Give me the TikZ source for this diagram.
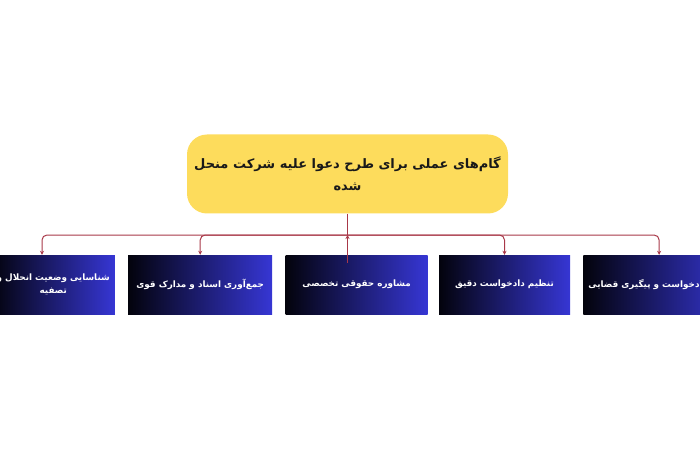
\documentclass[tikz,border=0pt]{standalone}
\usepackage{fontspec}
\usetikzlibrary{positioning, arrows.meta}
\TeXXeTstate=1
\newfontfamily\arabicfont[Script=Arabic]{DejaVu Sans}
\definecolor{titleyellow}{HTML}{FDDC5C}
\definecolor{stagedark}{HTML}{03030C}
\definecolor{stageblue}{HTML}{3636D4}
\definecolor{linkred}{HTML}{A83848}
\tikzset{
    title/.style={rounded corners=20pt, fill=titleyellow, minimum width=321pt, minimum height=79pt,
        text=black!90, align=center, font=\arabicfont\bfseries\fontsize{13}{22}\selectfont},
    stage/.style={left color=stagedark, right color=stageblue, minimum height=59pt, inner xsep=5pt,
        text=white, align=center, font=\arabicfont\bfseries\fontsize{8.8}{13}\selectfont},
    link/.style={draw=linkred, line width=1pt, rounded corners=5pt},
    tip/.style={-{Stealth[length=4pt, width=4pt]}},
    node distance=13pt
}

\begin{document}
\begin{tikzpicture}[x=1pt, y=1pt]
    \useasboundingbox (0,0) rectangle (700,450);
    \clip (0,0) rectangle (700,450);

    \node[title]  (steps)    at (347.5,276)  {\beginR گام‌های عملی برای طرح دعوا علیه شرکت منحل\endR\\\beginR شده\endR};

    \node[stage, minimum width=115pt, anchor=east] (identify) at (115,165.5) {\beginR شناسایی وضعیت انحلال و\endR\\\beginR تصفیه\endR};
    \node[stage, minimum width=144pt] (collect)  [right=of identify]      {\beginR جمع‌آوری اسناد و مدارک قوی\endR};
    \node[stage, minimum width=142pt] (consult)  [right=of collect]       {\beginR مشاوره حقوقی تخصصی\endR};
    \node[stage, minimum width=131pt] (petition) [right=11pt of consult]  {\beginR تنظیم دادخواست دقیق\endR};
    \node[stage, minimum width=146pt] (file)     [right=of petition]      {\beginR ارائه دادخواست و پیگیری قضایی\endR};

    \coordinate (hub) at (347.5,215);
    \draw[link] (steps.south) -- (hub);
    \draw[link, tip] (hub) -| ([xshift=-73pt]identify.north east);
    \draw[link, tip] (hub) -| (collect.north);
    \draw[link, tip] (hub) -| (petition.north);
    \draw[link, tip] (hub) -| (file.north);
    \draw[link, tip] ([yshift=-8pt]consult.north -| hub) -- (hub);
\end{tikzpicture}
\end{document}
